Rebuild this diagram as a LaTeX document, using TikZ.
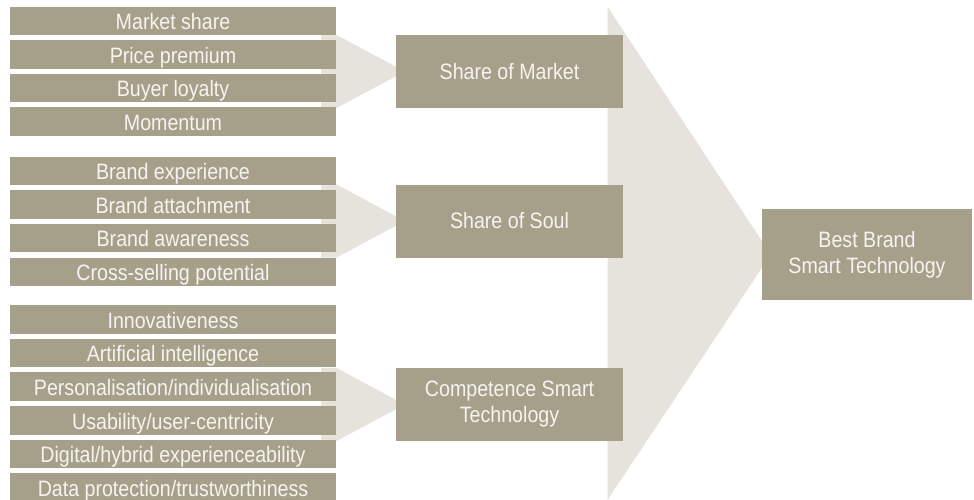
\documentclass[tikz,border=0pt]{standalone}
\usepackage{fontspec}
\setmainfont{Liberation Sans}[FakeStretch=0.88]
\usetikzlibrary{backgrounds}

\definecolor{boxtan}{RGB}{166,159,138}
\definecolor{funnelgrey}{RGB}{230,227,221}
\definecolor{boxtext}{RGB}{246,244,240}

\begin{document}
\begin{tikzpicture}[x=1pt, y=-1pt, node distance=33.6pt,
    item/.style={fill=boxtan, text=boxtext, inner sep=0pt, minimum width=326pt, minimum height=28.5pt,
                 text height=17.4pt, text depth=0pt, font=\fontsize{22.3}{26}\selectfont},
    pillar/.style={fill=boxtan, text=boxtext, inner sep=0pt, minimum width=227pt, minimum height=73pt,
                   align=center, font=\fontsize{22.3}{26}\selectfont},
    funnel/.style={fill=funnelgrey}]
    \useasboundingbox (0,0) rectangle (974,499);

    % Nodes {market}
    \node [item]   (ms)                  at (173,20.75)  {Market share};
    \node [item]   (pp)  [below of=ms]                   {Price premium};
    \node [item]   (bl)  [below of=pp]                   {Buyer loyalty};
    \node [item]   (mo)  [below of=bl]                   {Momentum};

    % Nodes {soul}
    \node [item]   (be)                  at (173,171)    {Brand experience};
    \node [item]   (bat) [below of=be]                   {Brand attachment};
    \node [item]   (baw) [below of=bat]                  {Brand awareness};
    \node [item]   (cs)  [below of=baw]                  {Cross-selling potential};

    % Nodes {smart technology}
    \node [item]   (inn)                 at (173,319.5)  {Innovativeness};
    \node [item]   (ai)  [below of=inn]                  {Artificial intelligence};
    \node [item]   (pers)[below of=ai]                   {Personalisation/individualisation};
    \node [item]   (usa) [below of=pers]                 {Usability/user-centricity};
    \node [item]   (dig) [below of=usa]                  {Digital/hybrid experienceability};
    \node [item]   (dat) [below of=dig]                  {Data protection/trustworthiness};

    % Pillars and result
    \node [pillar] (som)                 at (509.5,71.5) {Share of Market};
    \node [pillar] (sos)                 at (509.5,221)  {Share of Soul};
    \node [pillar] (cst)                 at (509.5,404.5){Competence Smart\\Technology};
    \node [pillar, minimum width=210pt, minimum height=91pt]
                   (bbst)                at (867,254.5)  {Best Brand\\Smart Technology};

    % Funnels
    \begin{scope}[on background layer]
    \fill [funnel] (607.5,6.7) -- (607.5,500) -- ([xshift=9pt]bbst.west) -- cycle;
    \foreach \pil/\itm in {som/ms, sos/be, cst/inn} {
        \fill [funnel] (\itm.east |- \pil.north) ++(-15pt,0) -- (\itm.east |- \pil.north)
              -- ([xshift=9pt]\pil.west) -- (\itm.east |- \pil.south) -- ++(-15pt,0) -- cycle;
    }
    \end{scope}

\end{tikzpicture}
\end{document}
